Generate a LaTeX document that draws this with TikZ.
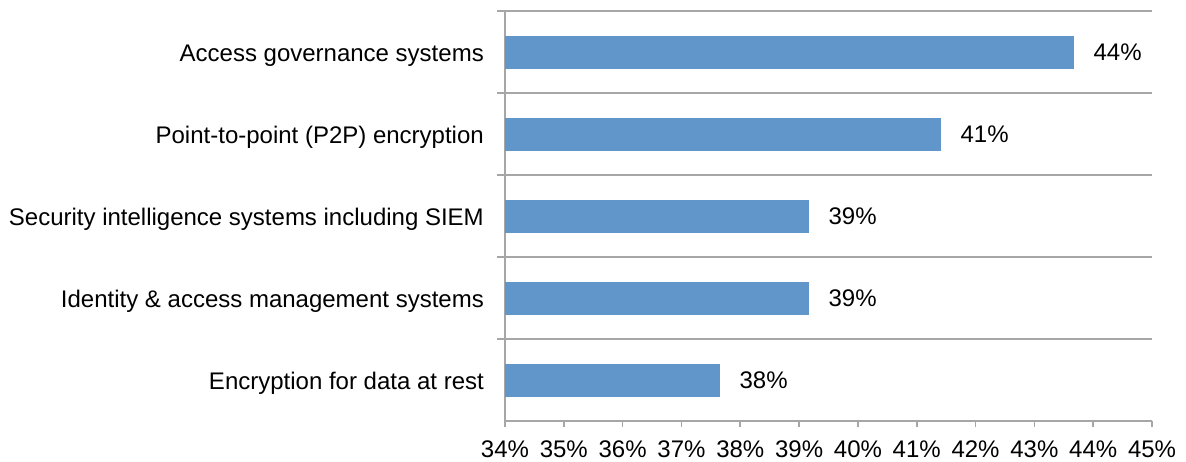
\documentclass[tikz,border=0pt]{standalone}
\usepackage{fontspec}
\setmainfont{Liberation Sans}
\definecolor{barblue}{RGB}{97,150,202}
\definecolor{gridgray}{RGB}{166,166,166}
\begin{document}
\begin{tikzpicture}[x=1pt,y=-1pt,
  every node/.style={font=\fontsize{24}{28}\selectfont, text=black, inner sep=0pt},
  grid/.style={draw=gridgray, line width=1.6pt},
  bar/.style={fill=barblue, draw=none, minimum height=33pt, anchor=west, inner sep=0pt},
  catlabel/.style={anchor=base east},
  vallabel/.style={anchor=base west},
  ticklabel/.style={anchor=base}]
\useasboundingbox (0,0) rectangle (1186,461);
% gridlines
\foreach \y in {11,93,175,257,339}{
  \draw[grid] (497,\y) -- (1152,\y);
}
% axes
\coordinate (ytop) at (505,11);
\coordinate (ybot) at (505,427);
\coordinate (xl) at (505,421);
\coordinate (xr) at (1152,421);
\draw[grid] (ytop) -- (ybot);
\draw[grid] (xl) -- (xr);
\foreach \i in {0,...,11}{
  \pgfmathsetmacro{\xx}{505+\i*58.82}
  \pgfmathtruncatemacro{\lab}{34+\i}
  \draw[grid] (\xx,421) -- (\xx,427);
  \node[ticklabel] (t\i) at (\xx,457) {\lab\%};
}
% bars
\node[bar, minimum width=569pt] (b1) at (505,52) {};
\node[bar, minimum width=436pt] (b2) at (505,134) {};
\node[bar, minimum width=304pt] (b3) at (505,216) {};
\node[bar, minimum width=304pt] (b4) at (505,298) {};
\node[bar, minimum width=215pt] (b5) at (505,380) {};
% value labels
\node[vallabel] (v1) at ([xshift=19pt,yshift=-8.6pt]b1.east) {44\%};
\node[vallabel] (v2) at ([xshift=19pt,yshift=-8.6pt]b2.east) {41\%};
\node[vallabel] (v3) at ([xshift=19pt,yshift=-8.6pt]b3.east) {39\%};
\node[vallabel] (v4) at ([xshift=19pt,yshift=-8.6pt]b4.east) {39\%};
\node[vallabel] (v5) at ([xshift=19pt,yshift=-8.6pt]b5.east) {38\%};
% category labels
\node[catlabel] (c1) at (484,61) {Access governance systems};
\node[catlabel] (c2) at (484,143) {Point-to-point (P2P) encryption};
\node[catlabel] (c3) at (484,225) {Security intelligence systems including SIEM};
\node[catlabel] (c4) at (484,307) {Identity \& access management systems};
\node[catlabel] (c5) at (484,389) {Encryption for data at rest};
\end{tikzpicture}
\end{document}
